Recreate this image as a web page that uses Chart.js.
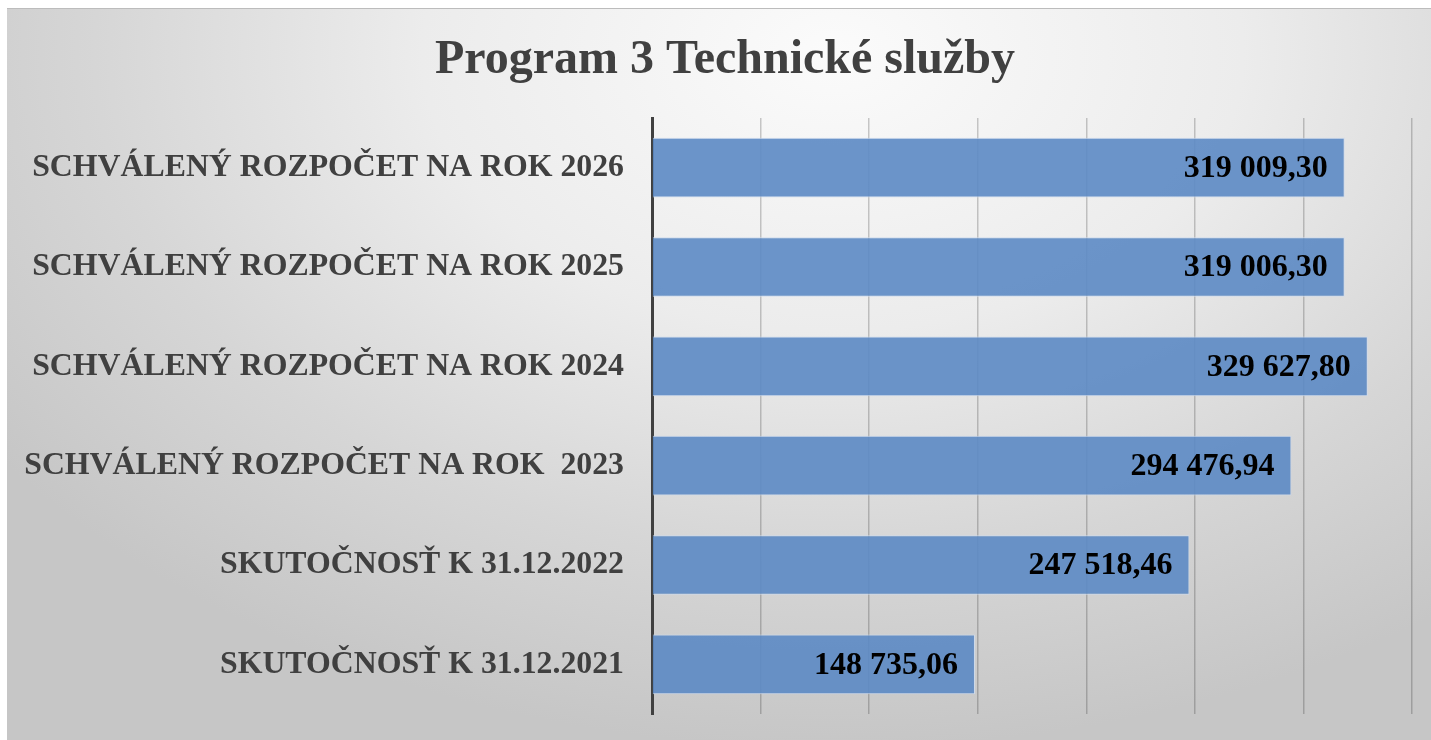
<!DOCTYPE html>
<html>
<head>
<meta charset="utf-8">
<script src="https://cdn.jsdelivr.net/npm/chart.js@4.4.1/dist/chart.umd.min.js"></script>
<style>
  html, body { margin: 0; padding: 0; background: #fff; }
  #wrap {
    position: absolute; left: 7px; top: 8px; width: 1424px; height: 732px;
    border-top: 1px solid #bcbcbc;
    background: radial-gradient(ellipse 72% 95% at 58% 6%, #fbfbfb 0%, #ececec 40%, #d6d6d6 72%, #c6c6c6 100%);
  }
  #chart { display: block; }
</style>
</head>
<body>
<div id="wrap"><canvas id="chart" width="1424" height="731"></canvas></div>
<script>
// chart data
const categories = [
  "SCHVÁLENÝ ROZPOČET NA ROK 2026",
  "SCHVÁLENÝ ROZPOČET NA ROK 2025",
  "SCHVÁLENÝ ROZPOČET NA ROK 2024",
  "SCHVÁLENÝ ROZPOČET NA ROK  2023",
  "SKUTOČNOSŤ K 31.12.2022",
  "SKUTOČNOSŤ K 31.12.2021"
];
const values = [319009.30, 319006.30, 329627.80, 294476.94, 247518.46, 148735.06];
const chartTitle = "Program 3 Technické služby";

const serif = "'Liberation Serif', 'Times New Roman', serif";

// "319 009,30" style
function fmt(v) {
  const parts = v.toFixed(2).split(".");
  const whole = parts[0].replace(/\B(?=(\d{3})+(?!\d))/g, " ");
  return whole + "," + parts[1];
}

// title + value labels inside the end of each bar
const textLayer = {
  id: "textLayer",
  afterDatasetsDraw(chart) {
    const ctx = chart.ctx;
    const meta = chart.getDatasetMeta(0);
    ctx.save();
    ctx.font = "bold 32px " + serif;
    ctx.fillStyle = "#000";
    ctx.textAlign = "right";
    ctx.textBaseline = "middle";
    meta.data.forEach(function(bar, i) {
      ctx.fillText(fmt(values[i]), bar.x - 17, bar.y + 1);
    });

    ctx.font = "bold 48px " + serif;
    ctx.fillStyle = "#404040";
    ctx.textAlign = "center";
    ctx.textBaseline = "alphabetic";
    ctx.fillText(chartTitle, 718, 64);
    ctx.restore();
  }
};

const ctx = document.getElementById("chart").getContext("2d");
new Chart(ctx, {
  type: "bar",
  data: {
    labels: categories,
    datasets: [{
      data: values,
      backgroundColor: "rgba(92, 137, 196, 0.9)",
      borderColor: "rgba(205, 218, 238, 0.9)",
      borderWidth: 1,
      categoryPercentage: 1,
      barPercentage: 0.6
    }]
  },
  options: {
    indexAxis: "y",
    responsive: false,
    animation: false,
    layout: { padding: { left: 0, right: 19, top: 109, bottom: 26 } },
    plugins: {
      legend: { display: false },
      tooltip: { enabled: false },
      title: { display: false }
    },
    scales: {
      x: {
        min: 0,
        max: 350000,
        ticks: { display: false, stepSize: 50000 },
        grid: { color: "rgba(0, 0, 0, 0.2)", lineWidth: 1.5, drawTicks: false },
        border: { display: false },
        afterFit(scale) { scale.height = 0; }
      },
      y: {
        ticks: {
          color: "#404040",
          padding: 28,
          font: { family: serif, size: 31.8, weight: "bold" }
        },
        grid: { display: false, drawTicks: false },
        border: { display: true, color: "#404040", width: 3 },
        afterFit(scale) {
          scale.width = 645;
          scale.paddingTop = 0;
          scale.paddingBottom = 0;
        }
      }
    }
  },
  plugins: [textLayer]
});
</script>
</body>
</html>
